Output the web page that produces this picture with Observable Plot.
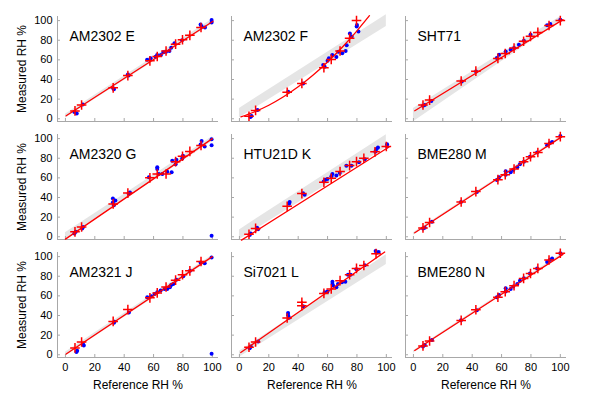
<!DOCTYPE html>
<html>
<head>
<meta charset="utf-8">
<script src="https://cdn.jsdelivr.net/npm/d3@7"></script>
<script src="https://cdn.jsdelivr.net/npm/@observablehq/plot@0.6"></script>
<style>
  html, body { margin: 0; padding: 0; background: #fff; }
  #chart { width: 592px; height: 398px; }
</style>
</head>
<body>
<div id="chart"></div>
<script>
// Panels (row-major, 3 x 3)
const panelNames = ["AM2302 E", "AM2302 F", "SHT71", "AM2320 G", "HTU21D K", "BME280 M", "AM2321 J", "Si7021 L", "BME280 N"];
const xTicks = [0, 20, 40, 60, 80, 100];
const yTicks = [0, 20, 40, 60, 80, 100];
const xLabel = "Reference RH %";
const yLabel = "Measured RH %";

// Red "+" markers: [reference, measured]
const redXY = [
  [[6.5,8],[11,14],[32.5,31.5],[42.5,44],[57.5,59],[62.5,63.5],[68.5,69],[75,76],[79.7,80.5],[84.7,85],[92.3,93]],
  [[6.5,2.5],[11,8.5],[32.5,27],[42.5,36],[57.5,52],[62.5,60.5],[68.5,69],[75,82],[79.7,100]],
  [[6.5,14],[11,19],[32.5,38.5],[42.5,48.5],[57.5,61.5],[62.5,66.5],[68.5,72],[75,79],[79.7,84],[84.7,88],[92.3,95],[100,100]],
  [[6.5,5],[11,10],[32.5,33.5],[42.5,44.5],[57.5,60],[62.5,64],[68.5,64],[75,76.5],[79.7,82],[84.7,87],[92.3,93]],
  [[6.5,2.5],[11,8.5],[32.5,31],[42.5,44],[57.5,55.5],[62.5,59.5],[68.5,66.5],[75,72.5],[79.7,76.5],[84.7,80],[92.3,86.5],[100,92]],
  [[6.5,9],[11,14.5],[32.5,35.4],[42.5,46],[57.5,58.2],[62.5,63.3],[68.5,69],[75,76.4],[79.7,81.5],[84.7,85.9],[92.3,95],[100,102]],
  [[6.5,7],[11,13],[32.5,34],[42.5,46],[57.5,58],[62.5,63],[68.5,69],[75,76],[79.7,81.5],[84.7,85.5],[92.3,95]],
  [[6.5,7.7],[11,13],[32.5,37.5],[42.5,50],[42.5,53.5],[57.5,62.5],[62.5,67],[68.5,75.5],[75,81.5],[79.7,88],[84.7,91],[93,103]],
  [[6.5,9],[11,14],[32.5,35],[42.5,45.8],[57.5,58.6],[62.5,64.3],[68.5,70.4],[75,77.8],[79.7,82.8],[84.7,88],[92.3,96.6],[100,103.4]]
];

// Blue individual readings: [reference, measured]
const blueXY = [
  [[6.1,7],[7.7,5.4],[11.8,14.6],[32.6,31],[33,30],[42.5,45],[43,44],[55.6,60],[58,61.6],[61.4,63.3],[62.4,65],[65,65],[66.7,67.7],[68.5,68.4],[70.8,69],[72,72.4],[74.2,77],[79.4,80],[92,96],[92.7,94],[95,93],[99.5,100.7],[99.5,98]],
  [[7.5,1.7],[8.2,2.7],[12.3,8.8],[33.2,27.5],[43.4,36],[57,54.8],[58,53],[60,59],[60.9,61.6],[63.2,65],[66,63],[67.3,68.4],[70,66.7],[72.3,69],[73,75],[75.2,87],[76.4,83.7],[80,95.6],[81,88.8],[79.8,94]],
  [[6.5,13.3],[7.7,14],[12.2,18.1],[32.9,37.9],[42.6,48.1],[56.8,61.8],[58.3,65.2],[62.8,68.6],[66.2,70.3],[68.5,72],[71.8,75.4],[75.2,79.5],[79.7,85.7],[91,95.2],[93.2,96.6],[100,101]],
  [[6.1,3.4],[7,5],[11.4,8.4],[12,10],[32.3,39],[32.3,35],[33,32],[34,37],[43,44],[43.9,45],[56.8,60.6],[62.5,70.7],[62.5,69],[63.6,64],[66,64],[69.3,66.3],[72.7,77.4],[72.3,65.7],[75,74],[75.5,78.5],[80,82.5],[79.5,79.8],[92,94],[92.7,97.6],[94.8,92],[99.5,99.3],[99.5,93.3],[99.5,1]],
  [[7,1.7],[7.7,3.4],[12,9.1],[12.7,7.7],[34.2,35.4],[33.8,33.7],[43.3,44.4],[44.4,42.8],[57.4,56.2],[58.5,58.2],[59.9,58.9],[63.3,64],[62.6,61.6],[66,62.3],[68.3,65],[72.8,72.4],[76.2,72.4],[81.4,75.8],[85.3,79.1],[92.5,86.5],[93.2,89.2],[94.3,90.9],[100.5,94.3],[100.5,92]],
  [[6.5,8.4],[7.7,9.1],[12.6,15.2],[32.4,35.4],[43.2,45.5],[56.8,57.9],[58.3,60.6],[62.8,66.7],[62.8,63.3],[66.2,65.7],[68,68],[70.7,70.7],[72.5,74],[75.2,76.4],[79.3,81.5],[84.2,85.9],[91,93.3],[92.8,95.3],[94.4,96.6],[100,102.7]],
  [[8,4],[7.5,2.7],[12,10.7],[12.5,9.4],[33,32.6],[33.4,33.6],[43.2,43],[55.7,58.7],[58.4,59.7],[60.7,62],[62.5,63.8],[64.8,65.4],[67.5,67.1],[69.3,67.1],[71.1,68.8],[72,71.1],[73.4,72.1],[75.5,76.5],[80.2,79.9],[84.8,85.6],[92,94],[94.8,93.3],[99.5,99],[99.5,1]],
  [[7,6.7],[7.7,8.4],[12.7,13.4],[33.1,42.6],[33.1,40.3],[33.8,37.6],[43.3,49.3],[58,63.8],[59.9,64.4],[63.3,74.5],[63.3,72.1],[63.7,70.5],[66,68.8],[67.1,72.1],[69.8,73.8],[72.1,74.5],[73.9,81.5],[75.7,81.5],[79.6,87.2],[85.3,91.3],[92.7,105.7],[94.8,104.7],[93.4,104]],
  [[6.5,8.4],[7.7,10],[12.6,15.1],[32.4,35.2],[43.2,45.3],[56.8,58.7],[58.3,61],[62.8,67.8],[62.8,64.4],[66.2,67.1],[68,69.5],[70.7,72.1],[72.5,75.5],[75.2,77.9],[79.3,82.9],[84.2,87.9],[91,94.6],[92.8,96.6],[94.4,98],[100,103.4]]
];

// Red fitted curves
const fitXY = [
  [[0.5,3],[100.5,99.3]],
  [[1,2],[10,6.9],[20,13.8],[30,22.4],[40,32.6],[50,44.4],[60,57.9],[70,72.9],[80,89.6],[88.5,105]],
  [[0.9,8.2],[101.8,101]],
  [[0,-2.4],[100,100]],
  [[1.4,-3.4],[102.3,91.9]],
  [[0.9,4],[101.1,102]],
  [[0.5,0.7],[100,100]],
  [[0.9,2.3],[98.9,104.7]],
  [[0.9,4.4],[101.8,102.3]]
];

// Grey tolerance band: [low @ x0, high @ x0, low @ x1, high @ x1]
const bandX = [0, 100];
const bandLoHi = [
  [0.5, 4.5, 96.5, 101.5],
  [1, 10.5, 94, 106],
  [-3, 10.5, 99, 104],
  [-2.5, 4, 97, 102],
  [-3, 7, 91, 104],
  [1.5, 4, 99.5, 102],
  [-1.5, 2.5, 97.5, 101.5],
  [-2.5, 3.5, 92, 102],
  [1.5, 4, 99.5, 102]
];

// ---- build tables ----
const col = i => i % 3, row = i => Math.floor(i / 3);
const red = redXY.flatMap((a, i) => a.map(([x, y]) => ({x, y, c: col(i), r: row(i)})));
const blue = blueXY.flatMap((a, i) => a.map(([x, y]) => ({x, y, c: col(i), r: row(i)})));
const fits = fitXY.flatMap((a, i) => a.map(([x, y]) => ({x, y, c: col(i), r: row(i), p: i})));
const bands = bandLoHi.flatMap((b, i) => [
  {x: bandX[0], lo: b[0], hi: b[1], c: col(i), r: row(i), p: i},
  {x: bandX[1], lo: b[2], hi: b[3], c: col(i), r: row(i), p: i}
]);
const titles = panelNames.map((name, i) => ({name, c: col(i), r: row(i)}));
const leftCells = [0, 1, 2].map(r => ({c: 0, r}));
const bottomCells = [0, 1, 2].map(c => ({c, r: 2}));

const xDomain = [-5.4, 104.2];
const yDomain = [-2.8, 104.2];
const axisGrey = "#a8a8a8";
const font = "'Liberation Sans', Arial, Helvetica, sans-serif";

const chart = Plot.plot({
  width: 592,
  height: 398,
  marginLeft: 57,
  marginRight: 26,
  marginTop: 15,
  marginBottom: 40,
  style: {fontFamily: font, fontSize: "11px", background: "#fff", color: "#000"},
  x: {domain: xDomain, label: null},
  y: {domain: yDomain, label: null},
  fx: {domain: [0, 1, 2], paddingInner: 0.075, paddingOuter: 0, axis: null},
  fy: {domain: [0, 1, 2], paddingInner: 0.11, paddingOuter: 0, axis: null},
  marks: [
    Plot.areaY(bands, {x: "x", y1: "lo", y2: "hi", z: "p", fx: "c", fy: "r", fill: "#e5e5e5"}),
    Plot.ruleX([xDomain[0]], {stroke: axisGrey}),
    Plot.ruleY([yDomain[0]], {stroke: axisGrey}),
    Plot.axisX({ticks: xTicks, facetAnchor: null, tickSize: -3, tickFormat: () => "", stroke: axisGrey, label: null}),
    Plot.axisY({ticks: yTicks, facetAnchor: null, tickSize: -3, tickFormat: () => "", stroke: axisGrey, label: null}),
    Plot.axisX({ticks: xTicks, tickSize: 0, tickPadding: 6, label: null, fontSize: 11}),
    Plot.axisY({ticks: yTicks, tickSize: 0, tickPadding: 5, label: null, fontSize: 11}),
    Plot.dot(blue, {x: "x", y: "y", fx: "c", fy: "r", r: 2, fill: "#0000ff", stroke: null}),
    Plot.line(fits, {x: "x", y: "y", z: "p", fx: "c", fy: "r", stroke: "#ff0000", strokeWidth: 1.3, curve: "catmull-rom"}),
    Plot.dot(red, {x: "x", y: "y", fx: "c", fy: "r", symbol: "plus", r: 3.2, stroke: "#ff0000", strokeWidth: 1.5}),
    Plot.text(titles, {fx: "c", fy: "r", text: "name", frameAnchor: "top-left", dx: 12, dy: 20, lineAnchor: "middle", textAnchor: "start", fontSize: 14, fill: "#000"}),
    Plot.text(leftCells, {fx: "c", fy: "r", text: () => yLabel, frameAnchor: "left", dx: -35, rotate: -90, lineAnchor: "middle", textAnchor: "middle", fontSize: 12, fill: "#000"}),
    Plot.text(bottomCells, {fx: "c", fy: "r", text: () => xLabel, frameAnchor: "bottom", dy: 28, lineAnchor: "middle", textAnchor: "middle", fontSize: 12, fill: "#000"})
  ]
});
document.getElementById("chart").appendChild(chart);
</script>
</body>
</html>
